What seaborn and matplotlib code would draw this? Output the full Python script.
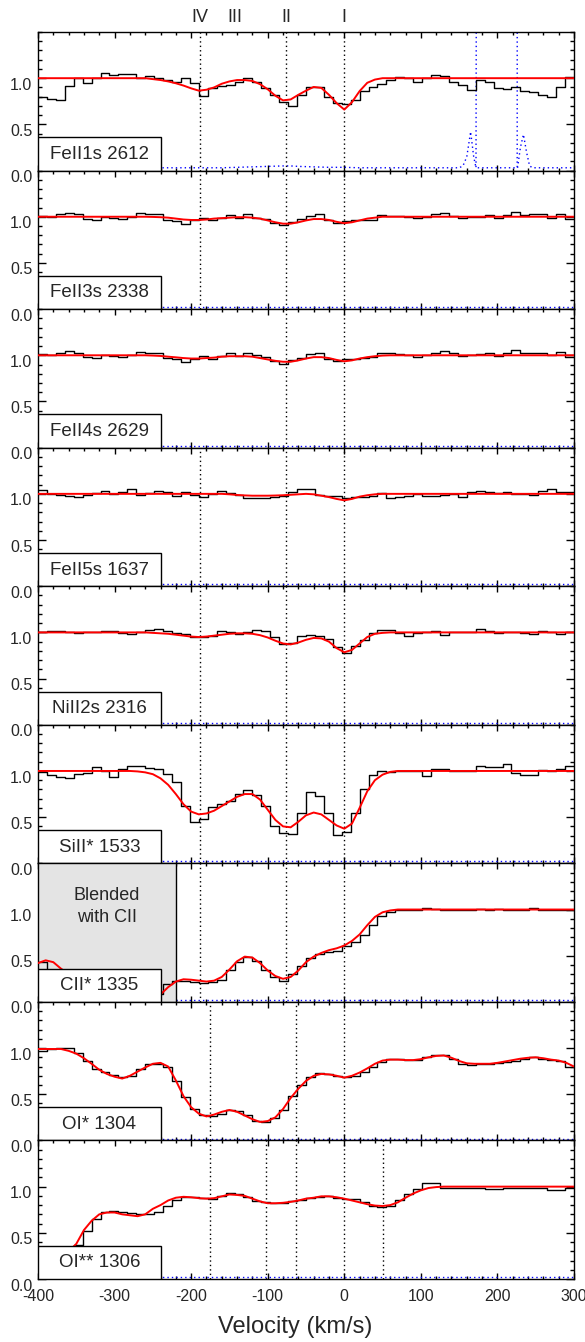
import numpy as np
import matplotlib
matplotlib.use("Agg")
import matplotlib.pyplot as plt
import seaborn as sns
from matplotlib.patches import Rectangle
from matplotlib.ticker import MultipleLocator
from matplotlib.transforms import ScaledTranslation

# ---------------- data ----------------
bin_edges = np.linspace(-400, 300, 61)     # data pixel bins (km/s)
model_v = np.arange(-400, 301, 10)         # model grid (km/s)
err_v = np.arange(-400, 301, 20)           # error grid (km/s)

labels = ["FeII1s 2612", "FeII3s 2338", "FeII4s 2629", "FeII5s 1637",
          "NiII2s 2316", "SiII* 1533", "CII* 1335", "OI* 1304", "OI** 1306"]

comp_names = ["IV", "III", "II", "I"]
comp_v = [-188, -143, -76, 0]

lines_std = [-188, -76, 0]
lines_feii4s = [-76, 0]
lines_oi1 = [-176, -63, 0]
lines_oi2 = [-176, -102, -63, 0, 51]

feii1s_flux = [0.80, 0.78, 0.76, 0.92, 1.00, 0.95, 1.00, 1.06, 1.03, 1.04,
               1.04, 1.00, 1.02, 1.00, 0.98, 0.96, 1.00, 0.95, 0.81, 0.89,
               0.92, 0.93, 0.96, 1.00, 0.96, 0.89, 0.82, 0.74, 0.70, 0.82,
               0.90, 0.90, 0.80, 0.73, 0.72, 0.76, 0.86, 0.90, 0.94, 0.98,
               1.01, 1.00, 0.96, 1.00, 1.03, 1.02, 0.96, 0.93, 0.87, 0.98,
               0.96, 0.89, 0.88, 0.90, 0.86, 0.855, 0.82, 0.80, 0.90, 1.01]
feii1s_model = [1.0, 1.0, 1.0, 1.0, 1.0, 1.0, 1.0, 1.0, 1.0, 1.0,
                1.0, 1.0, 1.0, 1.0, 1.0,
                0.99, 0.98, 0.965, 0.945, 0.92, 0.89, 0.865, 0.875, 0.90, 0.94,
                0.965, 0.98, 0.98, 0.97, 0.935, 0.88, 0.81, 0.76, 0.77, 0.82,
                0.865, 0.905, 0.895, 0.82, 0.73, 0.66, 0.74, 0.86, 0.95, 0.985,
                1.0,
                1.0, 1.0, 1.0, 1.0, 1.0, 1.0, 1.0, 1.0, 1.0, 1.0,
                1.0, 1.0, 1.0, 1.0, 1.0, 1.0, 1.0, 1.0, 1.0, 1.0,
                1.0, 1.0, 1.0, 1.0, 1.0]
# error spectrum of FeII1s: two bad pixels (off-scale) at ~174 and ~226 km/s
feii1s_err_v = [-400, -380, -360, -340, -320, -300, -280, -260, -240, -220,
                -200, -180, -160, -140, -120, -100, -80, -70, -60, -40,
                -20, 0, 20, 40, 60, 80, 100, 120, 140, 150,
                155, 160, 165, 169, 172, 174, 174.3, 180, 200, 220,
                225.8, 226, 226.3, 230, 234, 238, 242, 246, 260, 280, 300]
feii1s_err = [0.03, 0.03, 0.03, 0.03, 0.03, 0.03, 0.03, 0.03, 0.03, 0.03,
              0.03, 0.03, 0.03, 0.035, 0.04, 0.045, 0.05, 0.05, 0.045, 0.04,
              0.035, 0.035, 0.03, 0.03, 0.03, 0.03, 0.03, 0.03, 0.03, 0.03,
              0.05, 0.15, 0.42, 0.15, 0.03, 9.0, 0.03, 0.03, 0.03, 0.03,
              0.03, 9.0, 0.03, 0.25, 0.39, 0.20, 0.05, 0.03, 0.03, 0.03, 0.03]
feii1s_err_seg = [0, 0, 0, 0, 0, 0, 0, 0, 0, 0,
                  0, 0, 0, 0, 0, 0, 0, 0, 0, 0,
                  0, 0, 0, 0, 0, 0, 0, 0, 0, 0,
                  0, 0, 0, 0, 0, 0, 1, 1, 1, 1,
                  1, 1, 2, 2, 2, 2, 2, 2, 2, 2, 2]

feii3s_flux = [1.01, 1.00, 1.03, 1.04, 1.03, 0.98, 0.97, 1.00, 0.99, 0.98,
               1.00, 1.04, 1.03, 1.03, 0.97, 0.95, 0.92, 0.96, 0.99, 0.96,
               0.99, 1.02, 0.99, 1.03, 0.99, 0.98, 0.93, 0.91, 0.94, 0.98,
               1.01, 1.03, 0.96, 0.93, 0.95, 0.96, 0.96, 0.97, 1.02, 1.01,
               1.01, 1.00, 0.99, 1.00, 1.03, 1.04, 1.01, 0.99, 1.00, 1.00,
               1.02, 0.99, 1.02, 1.05, 1.02, 1.03, 1.03, 0.99, 1.03, 0.98]
feii3s_model = [1.0, 1.0, 1.0, 1.0, 1.0, 1.0, 1.0, 1.0, 1.0, 1.0,
                1.0, 1.0, 1.0, 1.0, 1.0,
                0.998, 0.995, 0.99, 0.98, 0.97, 0.965, 0.965, 0.97, 0.98, 0.985,
                0.99, 0.995, 0.995, 0.99, 0.98, 0.96, 0.94, 0.925, 0.925, 0.94,
                0.96, 0.975, 0.975, 0.965, 0.945, 0.93, 0.94, 0.96, 0.98, 0.99,
                1.0,
                1.0, 1.0, 1.0, 1.0, 1.0, 1.0, 1.0, 1.0, 1.0, 1.0,
                1.0, 1.0, 1.0, 1.0, 1.0, 1.0, 1.0, 1.0, 1.0, 1.0,
                1.0, 1.0, 1.0, 1.0, 1.0]

feii4s_flux = [1.01, 1.00, 1.02, 1.045, 1.03, 0.985, 0.975, 1.00, 0.99, 0.98,
               1.005, 1.035, 1.03, 1.03, 0.97, 0.956, 0.93, 0.96, 0.99, 0.965,
               0.99, 1.025, 0.99, 1.03, 1.00, 0.98, 0.94, 0.91, 0.945, 0.97,
               1.01, 1.02, 0.96, 0.94, 0.965, 0.965, 0.975, 0.985, 1.02, 1.02,
               1.01, 1.005, 0.985, 1.00, 1.02, 1.045, 1.02, 0.99, 1.005, 1.01,
               1.02, 0.99, 1.02, 1.055, 1.02, 1.025, 1.025, 1.00, 1.035, 0.98]
feii4s_model = [1.0, 1.0, 1.0, 1.0, 1.0, 1.0, 1.0, 1.0, 1.0, 1.0,
                1.0, 1.0, 1.0, 1.0, 1.0,
                0.997, 0.993, 0.985, 0.978, 0.97, 0.965, 0.965, 0.97, 0.975, 0.985,
                0.99, 0.99, 0.99, 0.985, 0.97, 0.955, 0.94, 0.93, 0.93, 0.945,
                0.965, 0.98, 0.98, 0.97, 0.95, 0.935, 0.945, 0.965, 0.98, 0.99,
                0.997,
                1.0, 1.0, 1.0, 1.0, 1.0, 1.0, 1.0, 1.0, 1.0, 1.0,
                1.0, 1.0, 1.0, 1.0, 1.0, 1.0, 1.0, 1.0, 1.0, 1.0,
                1.0, 1.0, 1.0, 1.0, 1.0]

feii5s_flux = [1.04, 1.00, 0.985, 0.98, 0.97, 0.99, 1.01, 1.03, 1.00, 1.02,
               1.05, 0.99, 1.01, 1.03, 1.02, 0.98, 1.02, 0.99, 0.965, 1.00,
               1.03, 1.01, 0.99, 0.955, 0.955, 0.955, 0.965, 0.975, 1.02, 1.05,
               1.05, 0.99, 0.975, 0.98, 0.955, 0.965, 0.965, 0.98, 1.01, 0.955,
               0.965, 0.98, 1.00, 0.98, 0.975, 0.99, 1.00, 0.965, 1.02, 1.03,
               1.02, 1.01, 1.025, 1.00, 1.00, 0.99, 1.03, 1.05, 1.025, 1.02]
feii5s_model = [1.0, 1.0, 1.0, 1.0, 1.0, 1.0, 1.0, 1.0, 1.0, 1.0,
                1.0, 1.0, 1.0, 1.0, 1.0, 1.0, 1.0, 1.0, 1.0, 1.0,
                1.0, 1.0, 1.0, 1.0, 1.0,
                0.995, 0.988, 0.983, 0.98, 0.98, 0.98, 0.982, 0.985, 0.99, 0.995,
                1.0, 0.995, 0.98, 0.965, 0.945, 0.93, 0.945, 0.97, 0.985, 0.995,
                1.0, 1.0, 1.0, 1.0, 1.0, 1.0, 1.0, 1.0, 1.0, 1.0,
                1.0, 1.0, 1.0, 1.0, 1.0, 1.0, 1.0, 1.0, 1.0, 1.0,
                1.0, 1.0, 1.0, 1.0, 1.0, 1.0]

niii_flux = [1.007, 1.015, 1.015, 1.007, 0.99, 1.00, 1.00, 1.01, 1.01, 0.995,
             0.98, 1.007, 1.025, 1.04, 1.02, 0.99, 0.98, 0.955, 0.95, 0.965,
             1.01, 1.00, 0.98, 1.007, 1.03, 1.02, 0.945, 0.875, 0.89, 0.96,
             0.97, 0.96, 0.93, 0.845, 0.78, 0.855, 0.915, 0.99, 1.025, 1.025,
             0.995, 0.965, 0.995, 1.00, 1.02, 0.975, 1.00, 1.00, 1.007, 1.035,
             1.01, 0.995, 1.00, 1.007, 0.995, 0.98, 1.01, 1.00, 0.98, 1.00]
niii_model = [1.0, 1.0, 1.0, 1.0, 1.0, 1.0, 1.0, 1.0, 1.0, 1.0,
              1.0, 1.0, 1.0, 1.0, 1.0,
              0.995, 0.99, 0.985, 0.975, 0.965, 0.955, 0.95, 0.955, 0.965, 0.975,
              0.985, 0.99, 0.99, 0.985, 0.97, 0.945, 0.91, 0.88, 0.87, 0.89,
              0.92, 0.94, 0.935, 0.90, 0.83, 0.785, 0.81, 0.88, 0.95, 0.985,
              0.995,
              1.0, 1.0, 1.0, 1.0, 1.0, 1.0, 1.0, 1.0, 1.0, 1.0,
              1.0, 1.0, 1.0, 1.0, 1.0, 1.0, 1.0, 1.0, 1.0, 1.0,
              1.0, 1.0, 1.0, 1.0, 1.0]

siii_flux = [0.99, 0.96, 0.93, 0.92, 0.965, 0.98, 1.04, 1.00, 0.94, 1.02,
             1.05, 1.05, 1.03, 1.02, 0.97, 0.88, 0.62, 0.45, 0.48, 0.61,
             0.64, 0.68, 0.75, 0.79, 0.74, 0.62, 0.40, 0.33, 0.32, 0.55,
             0.77, 0.73, 0.55, 0.31, 0.34, 0.54, 0.80, 0.96, 1.00, 0.99,
             1.00, 1.00, 1.00, 0.95, 1.02, 1.02, 1.00, 1.00, 1.00, 1.05,
             1.04, 1.04, 1.08, 0.98, 0.96, 0.96, 1.01, 1.00, 1.02, 1.05]
siii_model = [1.0, 1.0, 1.0, 1.0, 1.0, 1.0, 1.0, 1.0, 1.0, 1.0,
              1.0, 1.0, 1.0,
              0.995, 0.985, 0.965, 0.92, 0.85, 0.75, 0.64, 0.56, 0.53, 0.54,
              0.57, 0.62, 0.67, 0.72, 0.75, 0.75, 0.69, 0.58, 0.47, 0.40,
              0.39, 0.45, 0.52, 0.55, 0.53, 0.47, 0.41, 0.375, 0.43, 0.60,
              0.78, 0.90, 0.96, 0.99,
              1.0, 1.0, 1.0, 1.0, 1.0, 1.0, 1.0, 1.0, 1.0, 1.0,
              1.0, 1.0, 1.0, 1.0, 1.0, 1.0, 1.0, 1.0, 1.0, 1.0,
              1.0, 1.0, 1.0, 1.0]

cii_flux = [0.43, 0.33, 0.28, 0.22, 0.18, 0.14, 0.10, 0.08, 0.06, 0.05,
            0.04, 0.04, 0.05, 0.08, 0.19, 0.225, 0.225, 0.21, 0.20, 0.21,
            0.24, 0.35, 0.43, 0.49, 0.44, 0.34, 0.27, 0.23, 0.30, 0.39,
            0.48, 0.52, 0.535, 0.55, 0.60, 0.65, 0.72, 0.83, 0.93, 0.97,
            0.99, 1.00, 1.00, 1.02, 1.01, 1.00, 1.00, 1.00, 1.00, 1.01,
            1.00, 1.01, 1.00, 0.99, 1.00, 1.02, 1.00, 1.00, 0.99, 0.99]
cii_model = [0.42, 0.45, 0.43, 0.36, 0.30, 0.25, 0.20, 0.15, 0.10, 0.07,
             0.05, 0.03, 0.02, 0.02, 0.03, 0.05, 0.08, 0.16, 0.22, 0.245,
             0.24, 0.23, 0.22, 0.23, 0.27, 0.35, 0.44, 0.49, 0.48, 0.42,
             0.34, 0.28, 0.25, 0.27, 0.34, 0.43, 0.49, 0.53, 0.56, 0.58,
             0.61, 0.66, 0.73, 0.83, 0.92, 0.97, 0.99,
             1.0, 1.0, 1.0, 1.0, 1.0, 1.0, 1.0, 1.0, 1.0, 1.0,
             1.0, 1.0, 1.0, 1.0, 1.0, 1.0, 1.0, 1.0, 1.0, 1.0,
             1.0, 1.0, 1.0, 1.0]

oi1_flux = [0.97, 0.99, 1.00, 1.00, 0.95, 0.86, 0.77, 0.74, 0.71, 0.69,
            0.70, 0.775, 0.83, 0.83, 0.79, 0.64, 0.47, 0.34, 0.28, 0.27,
            0.29, 0.33, 0.32, 0.275, 0.215, 0.20, 0.24, 0.33, 0.48, 0.60,
            0.69, 0.73, 0.72, 0.70, 0.69, 0.70, 0.74, 0.80, 0.85, 0.88,
            0.88, 0.875, 0.875, 0.90, 0.93, 0.92, 0.88, 0.83, 0.82, 0.83,
            0.83, 0.84, 0.85, 0.865, 0.88, 0.90, 0.88, 0.875, 0.865, 0.80]
oi1_model = [0.99, 0.99, 0.99, 0.99, 0.97, 0.94, 0.89, 0.83, 0.765, 0.72,
             0.69, 0.67, 0.70, 0.745, 0.79, 0.83, 0.84, 0.80, 0.65, 0.48,
             0.36, 0.29, 0.26, 0.28, 0.31, 0.33, 0.31, 0.27, 0.23, 0.20,
             0.21, 0.25, 0.34, 0.46, 0.56, 0.645, 0.70, 0.72, 0.715, 0.70,
             0.68, 0.70, 0.735, 0.78, 0.83, 0.865, 0.875, 0.875, 0.87, 0.87,
             0.88, 0.90, 0.915, 0.92, 0.895, 0.86, 0.835, 0.83, 0.83, 0.83,
             0.84, 0.855, 0.87, 0.885, 0.895, 0.90, 0.89, 0.875, 0.865, 0.84,
             0.80]

oi2_flux = [0.10, 0.12, 0.20, 0.30, 0.37, 0.52, 0.65, 0.72, 0.735, 0.72,
            0.71, 0.70, 0.70, 0.72, 0.79, 0.85, 0.885, 0.885, 0.875, 0.87,
            0.90, 0.93, 0.92, 0.885, 0.84, 0.83, 0.82, 0.82, 0.84, 0.86,
            0.875, 0.89, 0.90, 0.88, 0.87, 0.87, 0.83, 0.79, 0.78, 0.79,
            0.86, 0.92, 0.975, 1.04, 1.04, 0.99, 0.98, 0.98, 0.98, 0.98,
            0.975, 0.975, 0.98, 0.98, 0.99, 0.99, 0.99, 0.965, 0.96, 0.99]
oi2_model = [0.05, 0.08, 0.12, 0.20, 0.30, 0.38, 0.53, 0.63, 0.70, 0.72,
             0.72, 0.70, 0.69, 0.68, 0.70, 0.76, 0.80, 0.85, 0.88, 0.89,
             0.885, 0.875, 0.87, 0.875, 0.895, 0.915, 0.91, 0.90, 0.87, 0.84,
             0.82, 0.82, 0.825, 0.835, 0.85, 0.87, 0.88, 0.895, 0.895, 0.885,
             0.87, 0.85, 0.83, 0.81, 0.795, 0.79, 0.80, 0.83, 0.88, 0.925,
             0.96, 0.985, 0.995,
             1.0, 1.0, 1.0, 1.0, 1.0, 1.0, 1.0, 1.0, 1.0, 1.0,
             1.0, 1.0, 1.0, 1.0, 1.0, 1.0, 1.0, 1.0]

err_low = [0.02, 0.02, 0.02, 0.02, 0.02, 0.02, 0.02, 0.02, 0.02, 0.02,
           0.02, 0.02, 0.02, 0.02, 0.02, 0.02, 0.02, 0.02, 0.02, 0.02,
           0.02, 0.02, 0.02, 0.02, 0.02, 0.02, 0.02, 0.02, 0.02, 0.02,
           0.02, 0.02, 0.02, 0.02, 0.02, 0.02]

panels = [
    (feii1s_flux, feii1s_model, feii1s_err_v, feii1s_err, feii1s_err_seg, lines_std),
    (feii3s_flux, feii3s_model, err_v, err_low, None, lines_std),
    (feii4s_flux, feii4s_model, err_v, err_low, None, lines_feii4s),
    (feii5s_flux, feii5s_model, err_v, err_low, None, lines_std),
    (niii_flux, niii_model, err_v, err_low, None, lines_std),
    (siii_flux, siii_model, err_v, err_low, None, lines_std),
    (cii_flux, cii_model, err_v, err_low, None, lines_std),
    (oi1_flux, oi1_model, err_v, err_low, None, lines_oi1),
    (oi2_flux, oi2_model, err_v, err_low, None, lines_oi2),
]

# ---------------- style ----------------
sns.set_style("ticks")
plt.rcParams["font.family"] = ["Liberation Sans", "DejaVu Sans"]
plt.rcParams["axes.linewidth"] = 1.0

fig, axes = plt.subplots(9, 1, figsize=(5.85, 13.42), dpi=100, sharex=True)
fig.subplots_adjust(left=38 / 585, right=574 / 585, top=1 - 32 / 1342,
                    bottom=1 - 1279 / 1342, hspace=0)

dot = (0, (1, 2.2))
for i, (ax, lab, (flux, model, ev, err, seg, vlines)) in enumerate(zip(axes, labels, panels)):
    if i == 6:
        ax.axvspan(-400, -220, color="#e4e4e4", lw=0, zorder=2)
        ax.axvline(-220, color="black", lw=1, zorder=2.5)
        ax.text(-310, 1.03, "Blended\nwith CII", ha="center", va="center",
                fontsize=13, linespacing=1.35, zorder=2.6)
    sns.lineplot(x=np.asarray(ev, float), y=np.asarray(err, float),
                 units=None if seg is None else np.asarray(seg),
                 ax=ax, color="blue", lw=1.0, linestyle=dot, zorder=1,
                 estimator=None, sort=False)
    sns.lineplot(x=bin_edges, y=np.append(flux, flux[-1]), ax=ax, color="black",
                 lw=1.0, drawstyle="steps-post", zorder=3)
    sns.lineplot(x=model_v, y=np.asarray(model, float), ax=ax, color="red",
                 lw=1.4, zorder=4)
    for v in vlines:
        ax.axvline(v, color="black", lw=1.0, linestyle=dot, zorder=2.8)
    ax.add_patch(Rectangle((-400, 0), 160, 0.36, facecolor="white",
                           edgecolor="black", lw=1.0, zorder=6))
    ax.text(-320, 0.175, lab, ha="center", va="center", fontsize=13.5, zorder=7)

    ax.set_xlim(-400, 300)
    ax.set_ylim(0, 1.5)
    ax.xaxis.set_major_locator(MultipleLocator(100))
    ax.xaxis.set_minor_locator(MultipleLocator(20))
    ax.set_yticks([0.0, 0.5, 1.0])
    ax.set_yticklabels(["0.0", "0.5", "1.0"])
    ax.yaxis.set_minor_locator(MultipleLocator(0.1))
    ax.tick_params(which="both", direction="in", top=True, right=True,
                   width=1.0, color="black", labelsize=11.5, pad=4)
    ax.tick_params(axis="x", which="both", pad=7)
    ax.tick_params(axis="y", which="major", length=6)
    ax.tick_params(axis="y", which="minor", length=3)
    ax.tick_params(axis="x", which="major", length=4)
    ax.tick_params(axis="x", which="minor", length=2)
    ax.set_xlabel("")
    ax.set_ylabel("")
    for sp in ax.spines.values():
        sp.set_linewidth(1.0)
        sp.set_color("black")
    off = ScaledTranslation(0, -4 / 72, fig.dpi_scale_trans)
    for tl in ax.get_yticklabels():
        tl.set_transform(tl.get_transform() + off)

top = axes[0]
for name, v in zip(comp_names, comp_v):
    top.text(v, 1.108, name, transform=top.get_xaxis_transform(),
             ha="center", va="center", fontsize=13)

axes[-1].set_xticks([-400, -300, -200, -100, 0, 100, 200, 300])
axes[-1].set_xticklabels(["-400", "-300", "-200", "-100", "0", "100", "200", "300"])
fig.text(0.505, 0.0115, "Velocity (km/s)", ha="center", va="center", fontsize=17)

fig.savefig("out.png", dpi=100)
